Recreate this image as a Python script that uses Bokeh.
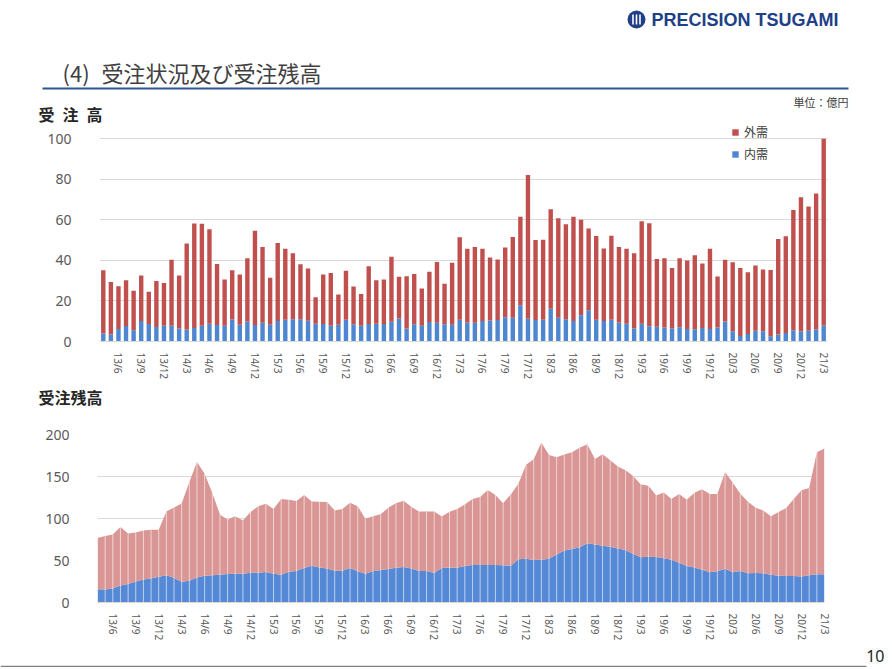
import math
from bokeh.plotting import figure
from bokeh.layouts import column, row
from bokeh.models import Range1d, FixedTicker, Legend, LegendItem, ColumnDataSource
from bokeh.core.properties import value
from bokeh.embed import file_html
from bokeh.resources import INLINE

months = [
    "13/4", "13/5", "13/6", "13/7", "13/8", "13/9", "13/10", "13/11", "13/12",
    "14/1", "14/2", "14/3", "14/4", "14/5", "14/6", "14/7", "14/8", "14/9", "14/10", "14/11", "14/12",
    "15/1", "15/2", "15/3", "15/4", "15/5", "15/6", "15/7", "15/8", "15/9", "15/10", "15/11", "15/12",
    "16/1", "16/2", "16/3", "16/4", "16/5", "16/6", "16/7", "16/8", "16/9", "16/10", "16/11", "16/12",
    "17/1", "17/2", "17/3", "17/4", "17/5", "17/6", "17/7", "17/8", "17/9", "17/10", "17/11", "17/12",
    "18/1", "18/2", "18/3", "18/4", "18/5", "18/6", "18/7", "18/8", "18/9", "18/10", "18/11", "18/12",
    "19/1", "19/2", "19/3", "19/4", "19/5", "19/6", "19/7", "19/8", "19/9", "19/10", "19/11", "19/12",
    "20/1", "20/2", "20/3", "20/4", "20/5", "20/6", "20/7", "20/8", "20/9", "20/10", "20/11", "20/12",
    "21/1", "21/2", "21/3",
]

x_tick_labels = [
    "13/6", "13/9", "13/12", "14/3", "14/6", "14/9", "14/12", "15/3", "15/6", "15/9", "15/12",
    "16/3", "16/6", "16/9", "16/12", "17/3", "17/6", "17/9", "17/12", "18/3", "18/6", "18/9", "18/12",
    "19/3", "19/6", "19/9", "19/12", "20/3", "20/6", "20/9", "20/12", "21/3",
]

# 受注高 (total = 内需 + 外需) and 内需, 億円
orders_total = [
    35.2, 29.4, 27.2, 30.2, 25.0, 32.5, 24.6, 29.8, 28.8,
    40.3, 32.6, 48.3, 58.2, 58.1, 55.4, 38.2, 30.6, 35.2, 33.1, 41.1, 54.6,
    46.6, 31.4, 48.6, 45.8, 43.5, 38.1, 36.0, 21.8, 33.1, 33.8, 23.2, 34.9,
    27.1, 23.4, 37.1, 30.2, 30.6, 41.8, 32.0, 32.2, 33.3, 26.1, 34.4, 39.2,
    28.5, 38.9, 51.4, 45.8, 46.6, 45.8, 41.4, 40.5, 46.4, 51.5, 61.6, 82.1,
    50.1, 50.2, 65.3, 60.8, 57.9, 61.6, 60.0, 55.8, 52.0, 45.9, 52.2, 46.6,
    45.7, 43.5, 59.3, 58.3, 40.7, 41.1, 36.3, 41.1, 39.9, 42.5, 38.5, 45.7,
    32.1, 40.3, 39.1, 36.3, 34.2, 37.5, 35.5, 35.3, 50.6, 51.9, 64.9, 71.2,
    66.6, 73.0, 100.0,
]
orders_domestic = [
    4.0, 3.5, 6.2, 7.7, 5.6, 10.1, 8.6, 7.2, 7.8,
    7.8, 6.4, 5.9, 6.7, 7.8, 8.8, 8.2, 7.8, 10.9, 8.3, 9.9, 8.2,
    9.3, 8.3, 10.1, 10.7, 11.0, 11.0, 10.2, 8.8, 8.6, 7.8, 8.3, 10.7,
    8.5, 7.8, 8.6, 8.8, 8.6, 9.8, 11.4, 6.4, 8.5, 7.8, 9.6, 9.3,
    8.5, 8.3, 10.7, 9.4, 9.3, 10.1, 10.4, 10.6, 12.0, 11.7, 17.9, 11.2,
    10.6, 10.7, 16.2, 11.7, 11.0, 10.1, 13.0, 15.4, 10.7, 10.1, 10.7, 9.4,
    8.8, 6.4, 8.8, 7.5, 7.3, 6.9, 6.5, 7.0, 6.2, 6.1, 6.7, 6.2,
    6.9, 9.9, 5.1, 2.7, 3.7, 5.3, 5.1, 2.6, 3.4, 4.2, 5.6, 5.0,
    5.3, 5.9, 8.0,
]

# 受注残高 (total) and 内需, 億円
backlog_total = [
    76.9, 79.3, 80.9, 90.0, 82.1, 83.3, 85.7, 86.5, 86.5,
    108.4, 113.1, 117.9, 143.4, 167.3, 153.4, 130.3, 104.8, 98.4, 102.8, 97.6, 107.6,
    114.7, 117.5, 111.2, 123.1, 122.3, 120.7, 127.9, 120.3, 119.9, 119.5, 109.6, 111.2,
    118.7, 114.7, 99.6, 102.8, 105.2, 112.7, 118.3, 121.1, 113.9, 108.4, 108.4, 108.4,
    102.4, 108.0, 111.2, 116.7, 123.1, 125.5, 133.9, 127.9, 118.3, 128.7, 141.4, 164.1,
    170.5, 190.4, 175.7, 172.9, 176.1, 178.9, 184.1, 188.4, 170.9, 176.5, 169.3, 162.0,
    157.4, 150.6, 140.6, 139.0, 127.5, 131.1, 123.1, 129.1, 122.3, 130.7, 134.7, 129.1,
    129.1, 155.0, 143.0, 129.5, 119.9, 112.7, 109.6, 102.8, 107.6, 112.4, 123.5, 133.5,
    136.3, 178.9, 183.3,
]
backlog_domestic = [
    15.9, 15.5, 16.7, 20.3, 21.9, 25.1, 27.5, 28.7, 30.7,
    32.3, 29.1, 24.7, 25.9, 29.9, 31.9, 32.3, 33.1, 33.9, 34.3, 34.3, 35.5,
    35.5, 36.3, 34.3, 33.1, 36.7, 37.5, 41.0, 43.8, 41.8, 40.6, 37.8, 37.8,
    41.0, 37.1, 34.3, 37.1, 38.6, 39.8, 41.4, 42.2, 40.6, 37.5, 37.5, 35.1,
    41.0, 41.4, 41.4, 43.4, 44.6, 44.6, 44.6, 44.6, 44.2, 43.8, 51.4, 52.2,
    50.6, 51.0, 52.2, 57.0, 61.8, 63.7, 65.7, 70.5, 68.9, 67.7, 66.5, 64.3,
    62.5, 57.8, 53.8, 54.6, 54.2, 52.6, 51.0, 47.4, 43.4, 41.8, 39.0, 35.9,
    37.1, 40.2, 35.9, 37.5, 34.7, 35.1, 34.7, 33.1, 31.9, 31.5, 31.5, 31.1,
    32.3, 33.5, 33.5,
]

W = 892
JP = "Noto Sans CJK JP"
NUM = "Noto Sans"
GRID = "#D9D9D9"
TICK = "#595959"
BAR_RED = "#C0504D"
BAR_BLUE = "#4F86D0"
AREA_PINK = "#D99694"
AREA_BLUE = "#5589D6"

xs = [i + 1 for i in range(len(months))]
tick_pos = [months.index(l) + 1 for l in x_tick_labels]
tick_over = {months.index(l) + 1: l for l in x_tick_labels}


def blank(h):
    p = figure(width=W, height=h, x_range=Range1d(0, W), y_range=Range1d(h, 0),
               output_backend="svg", toolbar_location=None,
               x_axis_type=None, y_axis_type=None,
               min_border_left=0, min_border_right=0, min_border_top=0, min_border_bottom=0)
    p.outline_line_color = None
    p.background_fill_color = "white"
    return p


def style_axes(p, yticks):
    p.xaxis.ticker = FixedTicker(ticks=tick_pos)
    p.xaxis.major_label_overrides = tick_over
    p.xaxis.major_label_orientation = -math.pi / 2
    p.xaxis.major_tick_line_color = None
    p.xaxis.minor_tick_line_color = None
    p.xaxis.axis_line_color = GRID
    p.xaxis.major_label_text_font = NUM
    p.xaxis.major_label_text_font_size = "10px"
    p.xaxis.major_label_text_color = TICK
    p.xaxis.major_label_standoff = 5
    p.yaxis.ticker = FixedTicker(ticks=yticks)
    p.yaxis.axis_line_color = None
    p.yaxis.major_tick_line_color = None
    p.yaxis.minor_tick_line_color = None
    p.yaxis.major_label_text_font = NUM
    p.yaxis.major_label_text_font_size = "14px"
    p.yaxis.major_label_text_color = TICK
    p.yaxis.major_label_standoff = 22
    p.xgrid.visible = False
    p.ygrid.ticker = FixedTicker(ticks=yticks)
    p.ygrid.grid_line_color = GRID
    p.outline_line_color = None


# ---------- header (page y 0..124) ----------
hdr = blank(124)
hdr.scatter(x=[636], y=[19], size=18, marker="circle", fill_color="#213F86", line_color=None)
hdr.rect(x=[632.5, 636, 639.5], y=[19, 19, 19], width=1.6, height=10, fill_color="white", line_color=None)
hdr.text(x=[651], y=[19], text=["PRECISION TSUGAMI"], text_font=value("Liberation Sans"),
         text_font_style="bold", text_font_size="18px", text_color="#213F86",
         text_baseline="middle", text_align="left")
hdr.text(x=[62], y=[71], text=["(4)"], text_font=value(JP), text_font_size="22px",
         text_color="#404040", text_baseline="middle", text_align="left")
hdr.text(x=[101], y=[71], text=["受注状況及び受注残高"], text_font=value(JP), text_font_size="22px",
         text_color="#404040", text_baseline="middle", text_align="left")
hdr.segment(x0=[42], y0=[88], x1=[848], y1=[88], line_color="#2F5597", line_width=2)
hdr.text(x=[848], y=[101], text=["単位：億円"], text_font=value(JP), text_font_size="11px",
         text_color="#404040", text_baseline="middle", text_align="right")
hdr.text(x=[38], y=[113], text=["受\u2002注\u2002高"], text_font=value(JP), text_font_style="bold",
         text_font_size="16px", text_color="#262626", text_baseline="middle", text_align="left")

# ---------- chart 1: 受注高 (page y 124..382) ----------
p1 = figure(width=W, height=258, x_range=Range1d(0.5, 96.5), y_range=Range1d(0, 107.05),
            output_backend="svg", toolbar_location=None,
            min_border_left=99, min_border_right=65, min_border_top=0, min_border_bottom=35)
style_axes(p1, [0, 20, 40, 60, 80, 100])
src1 = ColumnDataSource(dict(x=xs, dom=orders_domestic, tot=orders_total))
blue = p1.vbar(x="x", width=0.58, bottom=0, top="dom", source=src1,
               fill_color=BAR_BLUE, line_color=None)
red = p1.vbar(x="x", width=0.58, bottom="dom", top="tot", source=src1,
              fill_color=BAR_RED, line_color=None)
legend = Legend(items=[LegendItem(label="外需", renderers=[red]),
                       LegendItem(label="内需", renderers=[blue])],
                location=(632, 179), label_text_font=JP, label_text_font_size="12px",
                label_text_color="#404040", glyph_width=8, glyph_height=8,
                label_standoff=5, spacing=5, padding=0, margin=0, label_height=14,
                border_line_color=None, background_fill_alpha=0)
p1.add_layout(legend, "center")

# ---------- strip with 受注残高 (page y 382..412) ----------
strip = blank(30)
strip.text(x=[38], y=[14], text=["受注残高"], text_font=value(JP), text_font_style="bold",
           text_font_size="16px", text_color="#262626", text_baseline="middle", text_align="left")

# ---------- chart 2: 受注残高 (page y 412..645) ----------
p2 = figure(width=W, height=233, x_range=Range1d(1, 96), y_range=Range1d(0, 200),
            output_backend="svg", toolbar_location=None,
            min_border_left=97, min_border_right=68, min_border_top=22, min_border_bottom=43)
style_axes(p2, [0, 50, 100, 150, 200])
src2 = ColumnDataSource(dict(x=xs, dom=backlog_domestic, tot=backlog_total))
p2.varea(x="x", y1=0, y2="dom", source=src2, fill_color=AREA_BLUE)
p2.varea(x="x", y1="dom", y2="tot", source=src2, fill_color=AREA_PINK)
p2.segment(x0="x", y0=0, x1="x", y1="tot", source=src2, line_color="white",
           line_width=1, line_alpha=0.6)

# ---------- footer (page y 645..667) ----------
ftr = blank(22)
ftr.segment(x0=[0], y0=[21], x1=[866], y1=[21], line_color="#808080", line_width=1.5)
ftr.text(x=[884], y=[10], text=["10"], text_font=value(NUM), text_font_size="16px",
         text_color="#262626", text_baseline="middle", text_align="right")

layout = column(row(hdr), row(p1), row(strip), row(p2), row(ftr), spacing=0)
open("out.html", "w").write(file_html(layout, INLINE))
